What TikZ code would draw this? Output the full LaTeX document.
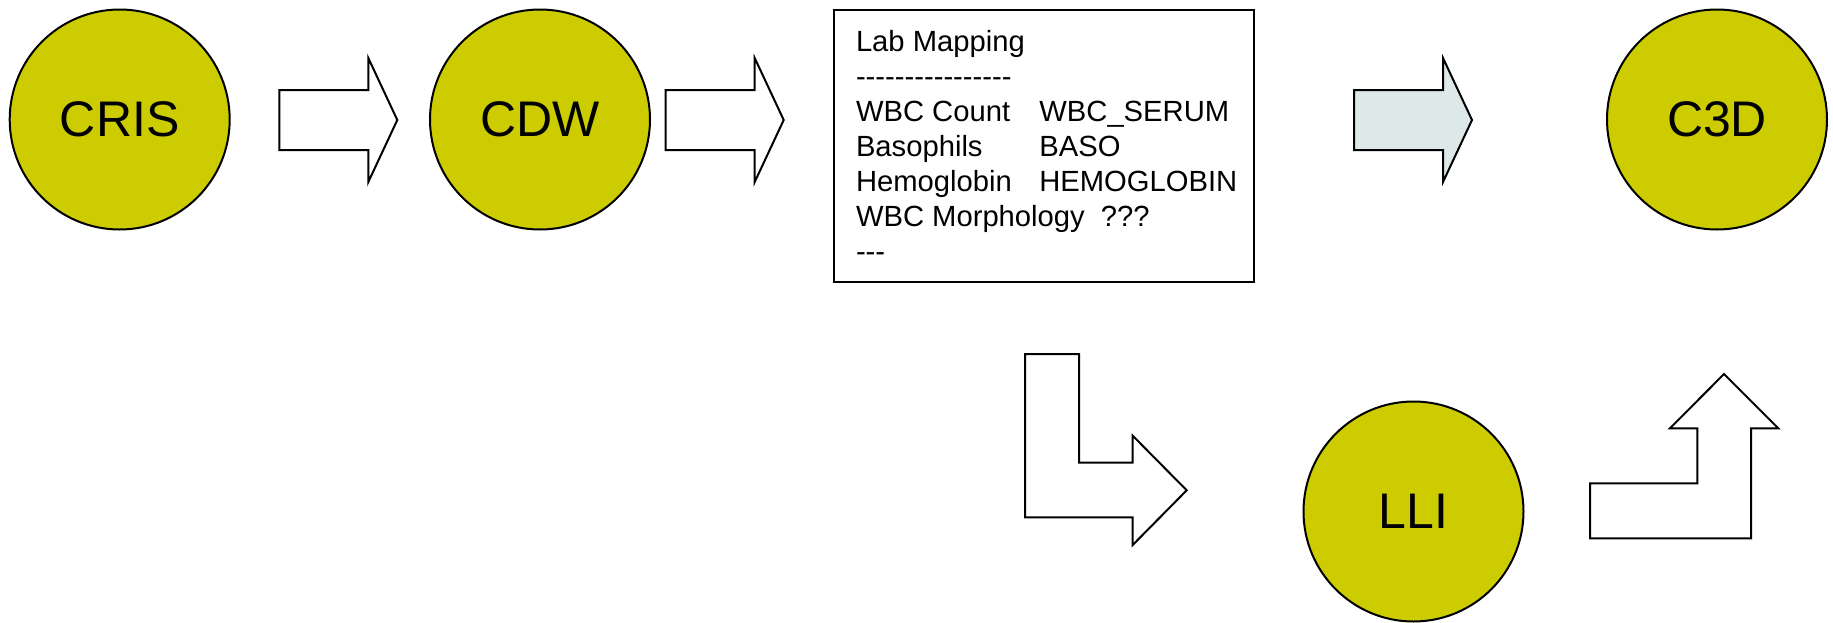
\documentclass[tikz,border=0pt]{standalone}
\usepackage{fontspec}
\setmainfont{Liberation Sans}
\newfontfamily\mapfont{Liberation Sans}
\usetikzlibrary{positioning}
\definecolor{sysyellow}{RGB}{204,204,0}
\definecolor{arrowgray}{RGB}{221,233,233}

\begin{document}
\begin{tikzpicture}[x=0.5pt,y=-0.5pt,line width=1pt,
	system/.style={shape=circle,draw,fill=sysyellow,minimum size=110pt,inner sep=0pt,font=\fontsize{25}{30}\selectfont},
	mapbox/.style={shape=rectangle,draw,minimum width=210.2pt,minimum height=135.9pt,inner sep=0pt},
	maptext/.style={align=left,inner sep=0pt,font=\mapfont\fontsize{14.6}{17.5}\selectfont},
	blockarrow/.style={draw,line join=miter},]
	\useasboundingbox (0,0) rectangle (1833,622);
	% create systems
	\node (cris) [system] at (119.7,119.5) {CRIS};
	\node (cdw) [system] at (540,119.5) {CDW};
	\node (c3d) [system] at (1717,119.5) {C3D};
	\node (lli) [system] at (1413.5,511.5) {LLI};

	% lab mapping table
	\node (mapping) [mapbox] at (1044.2,145.9) {};
	\node (maplines) [maptext,anchor=base west] at (855,261.5) {Lab Mapping\\
		----------------\\
		\makebox[91.7pt][l]{WBC Count}WBC\_SERUM\\
		\makebox[91.7pt][l]{Basophils}BASO\\
		\makebox[91.7pt][l]{Hemoglobin}HEMOGLOBIN\\
		WBC Morphology\ \ ???\\
		---};

	% straight block arrows
	\foreach \x/\col in {279.3/white,665.7/white,1354/arrowgray}
		\draw[blockarrow,fill=\col] (\x,90) -- ++(89,0) -- ++(0,-32) -- ++(29,62) -- ++(-29,62) -- ++(0,-32) -- ++(-89,0) -- cycle;

	% bent block arrows
	\draw[blockarrow,fill=white] (1025,354) -- (1079,354) -- (1079,462.7) -- (1132.7,462.7) -- (1132.7,435.7) -- (1186.7,490.3) -- (1132.7,545) -- (1132.7,517.3) -- (1025,517.3) -- cycle;
	\draw[blockarrow,fill=white] (1590,483.3) -- (1697.3,483.3) -- (1697.3,428.3) -- (1670,428.3) -- (1724,374) -- (1778.3,428.3) -- (1751,428.3) -- (1751,538.3) -- (1590,538.3) -- cycle;

\end{tikzpicture}
\end{document}
